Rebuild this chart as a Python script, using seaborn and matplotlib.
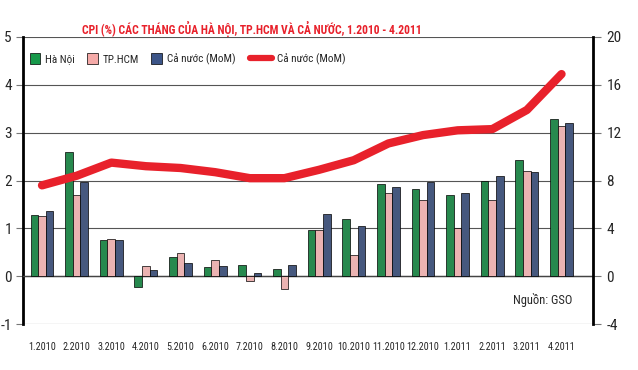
import numpy as np
import pandas as pd
import matplotlib
matplotlib.use('Agg')
import matplotlib.pyplot as plt
from matplotlib import font_manager as fm
from matplotlib.patches import Patch
from matplotlib.lines import Line2D
import seaborn as sns

months = ['1.2010', '2.2010', '3.2010', '4.2010', '5.2010', '6.2010', '7.2010', '8.2010',
          '9.2010', '10.2010', '11.2010', '12.2010', '1.2011', '2.2011', '3.2011', '4.2011']
ha_noi = [1.29, 2.60, 0.75, -0.23, 0.41, 0.20, 0.23, 0.15, 0.96, 1.20, 1.93, 1.83, 1.69, 2.00, 2.43, 3.28]
tp_hcm = [1.26, 1.69, 0.78, 0.22, 0.48, 0.34, -0.10, -0.27, 0.96, 0.45, 1.73, 1.60, 1.01, 1.60, 2.21, 3.15]
ca_nuoc_mom = [1.36, 1.96, 0.75, 0.14, 0.27, 0.22, 0.06, 0.23, 1.31, 1.05, 1.86, 1.98, 1.74, 2.09, 2.17, 3.20]
ca_nuoc_yoy = [7.6, 8.4, 9.5, 9.2, 9.05, 8.7, 8.2, 8.2, 8.9, 9.7, 11.1, 11.8, 12.2, 12.3, 13.9, 16.9]

series_names = ['Hà Nội', 'TP.HCM', 'Cả nước (MoM)']
colors = ['#17994a', '#f5aaa8', '#3c5588']
red = '#e8212b'

df = pd.DataFrame({
    'month': months * 3,
    'series': [series_names[0]] * 16 + [series_names[1]] * 16 + [series_names[2]] * 16,
    'value': ha_noi + tp_hcm + ca_nuoc_mom,
})

# condensed font, first one that is installed
installed = set(f.name for f in fm.fontManager.ttflist)
cond = 'DejaVu Sans'
for name in ['Roboto Condensed', 'Fira Sans Condensed', 'Barlow Condensed', 'Barlow Semi Condensed',
             'Archivo Narrow', 'PT Sans Narrow', 'Liberation Sans Narrow', 'Open Sans Condensed']:
    if name in installed:
        cond = name
        break

sns.set_style('white')
plt.rcParams['font.family'] = [cond, 'DejaVu Sans']

fig = plt.figure(figsize=(6.38, 3.70), dpi=100)
ax = fig.add_axes([0.036, 0.124, 0.893, 0.776])

sns.barplot(data=df, x='month', y='value', hue='series', palette=colors, width=0.66,
            edgecolor='black', linewidth=0.5, ax=ax, legend=False, zorder=3)

ax.set_ylim(-1, 5)
ax.set_xlim(-0.55, 15.9)
ax.set_yticks(range(-1, 6))
ax.set_yticklabels([str(v) for v in range(-1, 6)], fontsize=11)
ax.grid(axis='y', color='#555555', linewidth=0.8, zorder=0)
ax.grid(axis='x', visible=False)
ax.set_axisbelow(True)
ax.set_xlabel('')
ax.set_ylabel('')

for s in ['top', 'right']:
    ax.spines[s].set_visible(False)
ax.spines['left'].set_color('black')
ax.spines['left'].set_linewidth(2)
ax.spines['bottom'].set_position(('data', 0))
ax.spines['bottom'].set_color('#444444')
ax.spines['bottom'].set_linewidth(1)

ax.set_xticks(range(16))
ax.set_xticklabels(months, fontsize=7.3)
ax.set_xticks(np.arange(0.5, 15, 1), minor=True)
ax.tick_params(axis='x', which='major', length=0, pad=47)
ax.tick_params(axis='x', which='minor', length=5, width=1, color='#444444', direction='out')
ax.tick_params(axis='y', length=5, width=0.8, color='#777777', pad=3, left=True)

ax2 = ax.twinx()
sns.lineplot(x=np.arange(16), y=ca_nuoc_yoy, ax=ax2, color=red, linewidth=6,
             solid_capstyle='round', solid_joinstyle='round')
ax2.set_ylim(-4, 20)
ax2.set_yticks(range(-4, 21, 4))
ax2.set_yticklabels([str(v) for v in range(-4, 21, 4)], fontsize=11)
ax2.tick_params(axis='y', length=6, width=0.8, color='#777777', pad=4, right=True)
for s in ['top', 'left', 'bottom']:
    ax2.spines[s].set_visible(False)
ax2.spines['right'].set_color('black')
ax2.spines['right'].set_linewidth(2)
ax2.set_xlim(-0.55, 15.9)

# legend: three squares, then a long red line
bar_handles = [Patch(facecolor=c, edgecolor='black', linewidth=0.5) for c in colors]
leg1 = ax2.legend(bar_handles, series_names, loc='center left', bbox_to_anchor=(0.012, 0.923),
                  ncol=3, frameon=False, fontsize=8, handlelength=0.95, handleheight=1.2,
                  columnspacing=1.1, handletextpad=0.45, borderpad=0, borderaxespad=0)
ax2.add_artist(leg1)
line_handle = Line2D([0], [0], color=red, linewidth=4.5, solid_capstyle='round')
ax2.legend([line_handle], ['Cả nước (MoM)'], loc='center left', bbox_to_anchor=(0.398, 0.923),
           frameon=False, fontsize=8, handlelength=2.0, handletextpad=0.5,
           borderpad=0, borderaxespad=0)

ax2.text(0.965, 0.085, 'Nguồn: GSO', transform=ax2.transAxes, ha='right', va='center',
         fontsize=9)

fig.text(82 / 638, 0.922, 'CPI (%) CÁC THÁNG CỦA HÀ NỘI, TP.HCM VÀ CẢ NƯỚC, 1.2010 - 4.2011',
         color=red, fontsize=8.4, fontweight='bold', ha='left', va='center')

fig.savefig('out.png', dpi=100)
